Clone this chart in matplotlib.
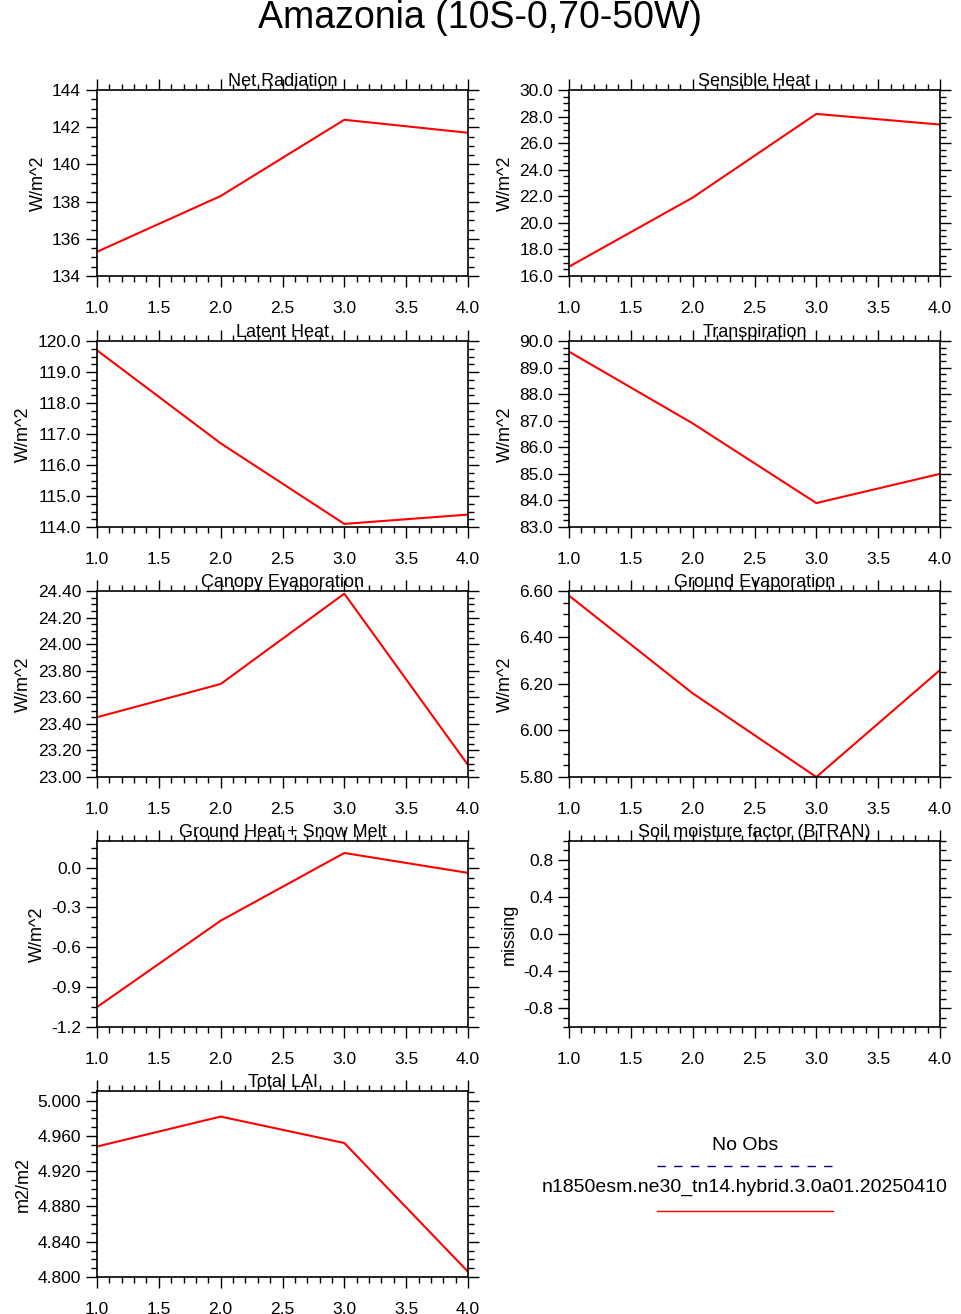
import matplotlib.pyplot as plt
import numpy as np
from matplotlib.ticker import MultipleLocator, FormatStrFormatter

plt.rcParams['font.family'] = ['Liberation Sans', 'DejaVu Sans']

x = [1.0, 2.0, 3.0, 4.0]
titles = ["Net Radiation", "Sensible Heat", "Latent Heat", "Transpiration",
          "Canopy Evaporation", "Ground Evaporation", "Ground Heat + Snow Melt",
          "Soil moisture factor (BTRAN)", "Total LAI"]
units = ["W/m^2"] * 7 + ["missing", "m2/m2"]
values = [
    [135.3, 138.3, 142.4, 141.7],
    [16.7, 21.9, 28.2, 27.4],
    [119.7, 116.7, 114.1, 114.4],
    [89.6, 86.9, 83.9, 85.0],
    [23.45, 23.70, 24.38, 23.09],
    [6.58, 6.16, 5.80, 6.26],
    [-1.05, -0.40, 0.11, -0.04],
    None,
    [4.948, 4.982, 4.952, 4.806],
]
ylims = [(134, 144), (16, 30), (114, 120), (83, 90), (23, 24.4), (5.8, 6.6),
         (-1.2, 0.2), (-1.0, 1.0), (4.8, 5.011)]
major = [2, 2, 1, 1, 0.2, 0.2, 0.3, 0.4, 0.04]
minor = [0.5, 0.5, 0.25, 0.25, 0.05, 0.05, 0.075, 0.1, 0.01]
fmts = ["%.0f", "%.1f", "%.1f", "%.1f", "%.2f", "%.2f", "%.1f", "%.1f", "%.3f"]

W, H = 961, 1314
fig = plt.figure(figsize=(W / 100, H / 100), dpi=100)
fig.text(0.5, 1 - 18 / H, "Amazonia (10S-0,70-50W)", ha="center", va="center", fontsize=27)

lefts = [97, 569]
tops = [90, 341, 591, 841, 1091]
for i in range(9):
    r, c = divmod(i, 2)
    l = lefts[c]; t = tops[r]
    ax = fig.add_axes([l / W, 1 - (t + 186) / H, 371 / W, 186 / H])
    if values[i] is not None:
        ax.plot(x, values[i], color="red", lw=1.5)
    ax.set_xlim(1, 4)
    ax.set_ylim(*ylims[i])
    ax.xaxis.set_major_locator(MultipleLocator(0.5))
    ax.xaxis.set_minor_locator(MultipleLocator(0.1))
    ax.xaxis.set_major_formatter(FormatStrFormatter("%.1f"))
    ax.yaxis.set_major_locator(MultipleLocator(major[i]))
    ax.yaxis.set_minor_locator(MultipleLocator(minor[i]))
    ax.yaxis.set_major_formatter(FormatStrFormatter(fmts[i]))
    ax.tick_params(which="both", direction="out", top=True, right=True, labelsize=12.5)
    ax.tick_params(which="major", length=8, width=1)
    ax.tick_params(which="minor", length=4, width=1)
    ax.tick_params(axis="x", pad=10)
    for s in ax.spines.values():
        s.set_linewidth(1.2)
    ax.set_title(titles[i], fontsize=13, pad=1)
    ax.set_ylabel(units[i], fontsize=13)

fig.text(745 / W, 1 - 1145 / H, "No Obs", ha="center", va="center", fontsize=14)
fig.add_artist(plt.Line2D([657 / W, 833 / W], [1 - 1166 / H] * 2, color="navy", ls=(0, (6, 6)), lw=1))
fig.text(745 / W, 1 - 1187 / H, "n1850esm.ne30_tn14.hybrid.3.0a01.20250410",
         ha="center", va="center", fontsize=14)
fig.add_artist(plt.Line2D([657 / W, 833 / W], [1 - 1211 / H] * 2, color="red", lw=1))

fig.savefig("out.png", dpi=100)
